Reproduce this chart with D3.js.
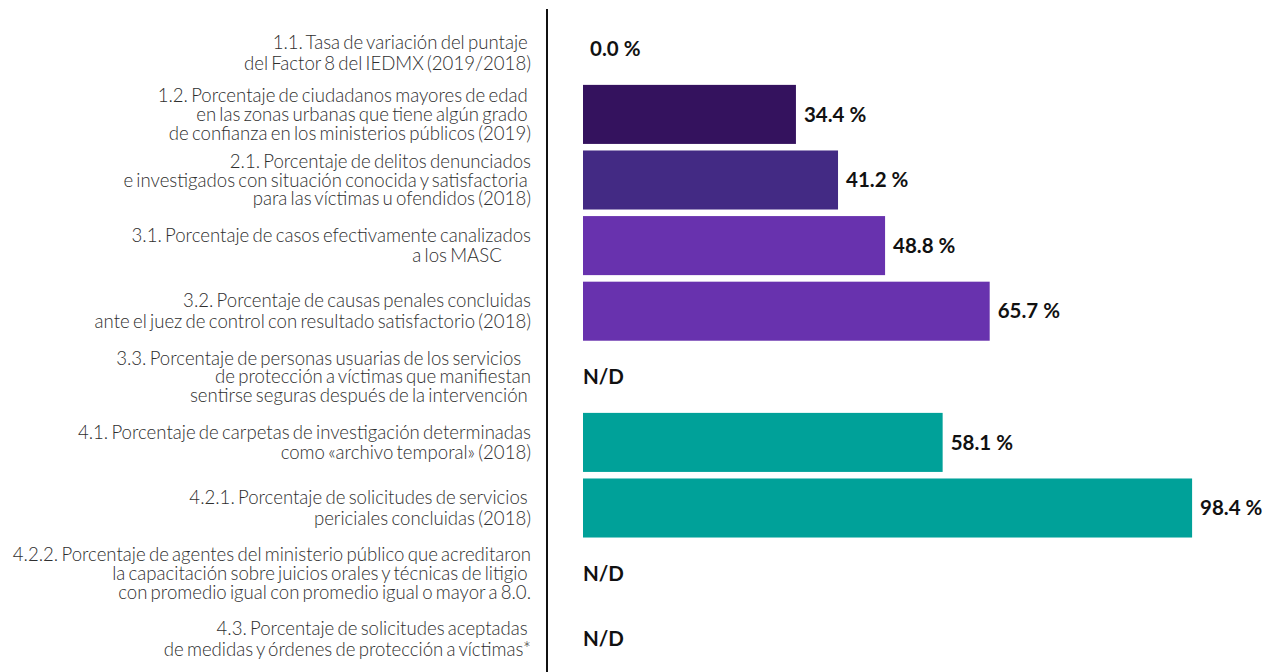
<!DOCTYPE html>
<html lang="es">
<head>
<meta charset="utf-8">
<script src="https://cdn.jsdelivr.net/npm/d3@7"></script>
<style>
  html, body { margin: 0; padding: 0; background: #ffffff; }
  svg { display: block; }
  .cat { font-family: Lato, "Open Sans", sans-serif; font-weight: 300; font-size: 18.6px; word-spacing: -1.8px; fill: #2e2e2e; white-space: pre; }
  .val { font-family: Lato, "Open Sans", sans-serif; font-weight: 700; font-size: 20.5px; fill: #111111; }
</style>
</head>
<body>
<svg id="chart" width="1267" height="672"></svg>
<script>
// Indicator labels (one entry per row, lines broken as printed)
const categories = [
  ["1.1. Tasa de variación del puntaje ", "del Factor 8 del IEDMX (2019/2018)"],
  ["1.2. Porcentaje de ciudadanos mayores de edad ", "en las zonas urbanas que tiene algún grado ", "de confianza en los ministerios públicos (2019)"],
  ["2.1. Porcentaje de delitos denunciados", "e investigados con situación conocida y satisfactoria ", "para las víctimas u ofendidos (2018)"],
  ["3.1. Porcentaje de casos efectivamente canalizados", "a los MASC         "],
  ["3.2. Porcentaje de causas penales concluidas", "ante el juez de control con resultado satisfactorio (2018)"],
  ["3.3. Porcentaje de personas usuarias de los servicios   ", "de protección a víctimas que manifiestan", "sentirse seguras después de la intervención "],
  ["4.1. Porcentaje de carpetas de investigación determinadas", "como «archivo temporal» (2018)"],
  ["4.2.1. Porcentaje de solicitudes de servicios ", "periciales concluidas (2018)"],
  ["4.2.2. Porcentaje de agentes del ministerio público que acreditaron", "la capacitación sobre juicios orales y técnicas de litigio ", "con promedio igual con promedio igual o mayor a 8.0."],
  ["4.3. Porcentaje de solicitudes aceptadas ", "de medidas y órdenes de protección a víctimas*"]
];

// Indicator values in percent (null = N/D, no data)
const values = [0.0, 34.4, 41.2, 48.8, 65.7, null, 58.1, 98.4, null, null];

// Bar colour per row, grouped by axis of the index
const barColors = ["#34125e", "#34125e", "#432a84", "#6832ae", "#6832ae", "#6832ae", "#00a199", "#00a199", "#00a199", "#00a199"];

const svg = d3.select("#chart");
const W = 1267, H = 672;
const axisX = 547;
const barX0 = 583;
const labelRight = 531;

const rows = d3.range(values.length);

const y = d3.scaleBand()
  .domain(rows)
  .range([16, H])
  .paddingInner(0.1)
  .paddingOuter(0.05);

const x = d3.scaleLinear()
  .domain([0, 100])
  .range([barX0, barX0 + 619]);

// Vertical separator between labels and bars
svg.append("line")
  .attr("x1", axisX).attr("x2", axisX)
  .attr("y1", 9).attr("y2", H)
  .attr("stroke", "#111")
  .attr("stroke-width", 2);

// Bars
svg.append("g")
  .selectAll("rect")
  .data(rows.filter(i => values[i] !== null && values[i] > 0))
  .join("rect")
  .attr("x", x(0))
  .attr("y", i => y(i))
  .attr("width", i => x(values[i]) - x(0))
  .attr("height", y.bandwidth())
  .attr("fill", i => barColors[i]);

// Value labels
const fmt = d3.format(".1f");
svg.append("g")
  .selectAll("text")
  .data(rows)
  .join("text")
  .attr("class", "val")
  .attr("x", i => values[i] === null ? x(0) : x(values[i]) + (values[i] > 0 ? 8 : 7))
  .attr("y", i => y(i) + y.bandwidth() / 2)
  .attr("dy", "0.35em")
  .text(i => values[i] === null ? "N/D" : fmt(values[i]) + " %");

// Category labels, right aligned next to the separator
const catG = svg.append("g");
rows.forEach(i => {
  const lines = categories[i];
  const lineH = lines.length > 2 ? 18.7 : 20.5;
  const cy = y(i) + y.bandwidth() / 2 + (i === 0 ? 4 : 0);
  const t = catG.append("text")
    .attr("class", "cat")
    .attr("text-anchor", "end")
    .attr("x", labelRight)
    .attr("y", cy - (lines.length - 1) * lineH / 2);
  lines.forEach((ln, k) => {
    t.append("tspan")
      .attr("x", labelRight)
      .attr("dy", k === 0 ? "0.35em" : lineH)
      .text(ln);
  });
});
</script>
</body>
</html>
